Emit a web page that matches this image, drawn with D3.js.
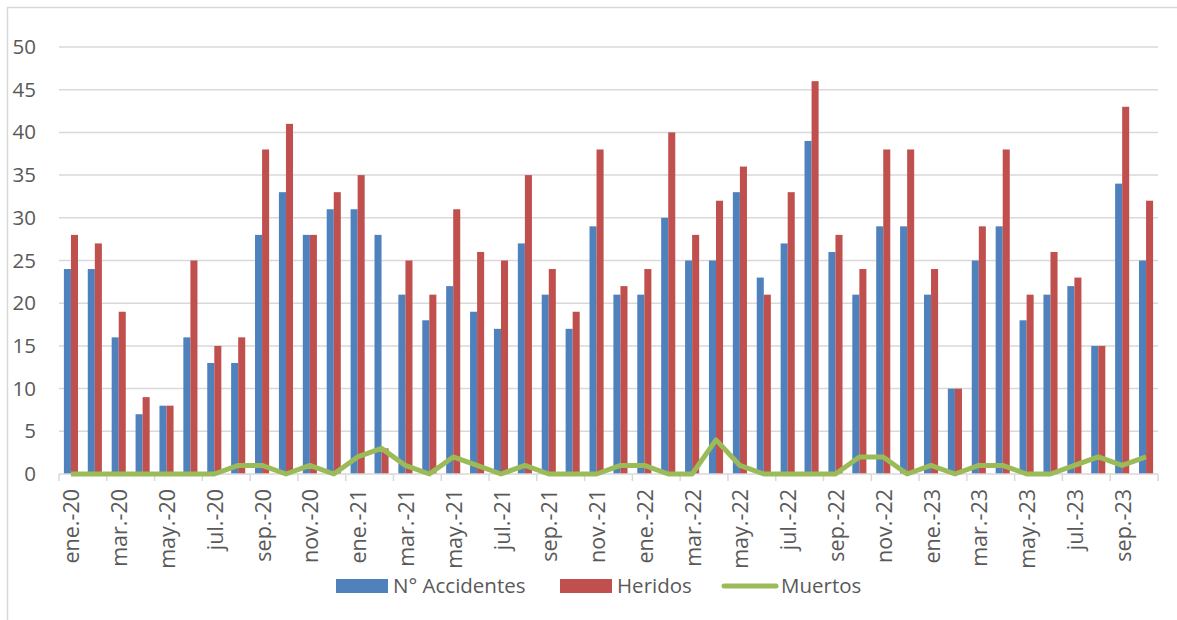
<!DOCTYPE html>
<html><head><meta charset="utf-8">
<script src="https://cdn.jsdelivr.net/npm/d3@7"></script>
<style>body{margin:0;background:#fff;} svg{display:block;}</style>
</head><body>
<svg id="c" width="1177" height="620"></svg>
<script>
const months = ["ene.-20","feb.-20","mar.-20","abr.-20","may.-20","jun.-20","jul.-20","ago.-20","sep.-20","oct.-20","nov.-20","dic.-20",
"ene.-21","feb.-21","mar.-21","abr.-21","may.-21","jun.-21","jul.-21","ago.-21","sep.-21","oct.-21","nov.-21","dic.-21",
"ene.-22","feb.-22","mar.-22","abr.-22","may.-22","jun.-22","jul.-22","ago.-22","sep.-22","oct.-22","nov.-22","dic.-22",
"ene.-23","feb.-23","mar.-23","abr.-23","may.-23","jun.-23","jul.-23","ago.-23","sep.-23","oct.-23"];
const accidentes = [24,24,16,7,8,16,13,13,28,33,28,31, 31,28,21,18,22,19,17,27,21,17,29,21, 21,30,25,25,33,23,27,39,26,21,29,29, 21,10,25,29,18,21,22,15,34,25];
const heridos =    [28,27,19,9,8,25,15,16,38,41,28,33, 35,3,25,21,31,26,25,35,24,19,38,22, 24,40,28,32,36,21,33,46,28,24,38,38, 24,10,29,38,21,26,23,15,43,32];
const muertos =    [0,0,0,0,0,0,0,1,1,0,1,0, 2,3,1,0,2,1,0,1,0,0,0,1, 1,0,0,4,1,0,0,0,0,2,2,0, 1,0,1,1,0,0,1,2,1,2];
const yTicks = [0,5,10,15,20,25,30,35,40,45,50];
const seriesNames = ["N° Accidentes","Heridos","Muertos"];
const colors = {acc:"#4F81BD", her:"#C0504D", mue:"#9BBB59"};

const svg = d3.select("#c");
const L=59, R=1158, T=47, B=474;
const font = "'Open Sans', 'Noto Sans', sans-serif";

// border
svg.append("rect").attr("x",7.5).attr("y",7.5).attr("width",1200).attr("height",700)
  .attr("fill","none").attr("stroke","#d9d9d9").attr("stroke-width",1.5);

const x = d3.scaleBand().domain(months).range([L,R]).paddingInner(0.41).paddingOuter(0.205);
const xs = d3.scaleBand().domain(["acc","her"]).range([0,x.bandwidth()]);
const y = d3.scaleLinear().domain([0,50]).range([B,T]);

// gridlines
svg.append("g").selectAll("line").data(yTicks.filter(d=>d>0)).join("line")
  .attr("x1",L).attr("x2",R).attr("y1",d=>y(d)).attr("y2",d=>y(d))
  .attr("stroke","#d9d9d9").attr("stroke-width",1.5);

// y axis labels
const yAxis = d3.axisLeft(y).tickValues(yTicks).tickSize(0).tickPadding(0);
const gy = svg.append("g").attr("transform",`translate(36,0)`).call(yAxis);
gy.select(".domain").remove();
gy.selectAll("text").attr("font-family",font).attr("font-size",20.5).attr("fill","#595959");

// bars
const g = svg.append("g");
months.forEach((m,i)=>{
  g.append("rect").attr("x",x(m)+xs("acc")).attr("width",xs.bandwidth())
    .attr("y",y(accidentes[i])).attr("height",B-y(accidentes[i])).attr("fill",colors.acc);
  g.append("rect").attr("x",x(m)+xs("her")).attr("width",xs.bandwidth())
    .attr("y",y(heridos[i])).attr("height",B-y(heridos[i])).attr("fill",colors.her);
});

// x axis
svg.append("line").attr("x1",L).attr("x2",R).attr("y1",B).attr("y2",B)
  .attr("stroke","#d9d9d9").attr("stroke-width",1.5);
const step = x.step();
const tickIdx = d3.range(0, months.length+1, 2);
svg.append("g").selectAll("line").data(tickIdx).join("line")
  .attr("x1",i=>i<months.length? x(months[i]) - x.paddingInner()*step/2 : R)
  .attr("x2",i=>i<months.length? x(months[i]) - x.paddingInner()*step/2 : R)
  .attr("y1",B).attr("y2",B+7).attr("stroke","#d9d9d9").attr("stroke-width",1.5);

svg.append("g").selectAll("text").data(months.filter((d,i)=>i%2===0)).join("text")
  .attr("transform",d=>`translate(${x(d)+x.bandwidth()/2+1},489) rotate(-90)`)
  .attr("text-anchor","end").attr("dy","0.35em")
  .attr("font-family",font).attr("font-size",21.5).attr("fill","#595959")
  .text(d=>d);

// line
const line = d3.line().x((d,i)=>x(months[i])+x.bandwidth()/2).y(d=>y(d));
svg.append("path").datum(muertos).attr("d",line).attr("fill","none")
  .attr("stroke",colors.mue).attr("stroke-width",5).attr("stroke-linejoin","round");

// legend
const lg = svg.append("g").attr("font-family",font).attr("font-size",20.5).attr("fill","#595959");
lg.append("rect").attr("x",336).attr("y",579).attr("width",52).attr("height",14).attr("fill",colors.acc);
lg.append("text").attr("x",393).attr("y",586).attr("dy","0.35em").text(seriesNames[0]);
lg.append("rect").attr("x",560).attr("y",579).attr("width",52).attr("height",14).attr("fill",colors.her);
lg.append("text").attr("x",617).attr("y",586).attr("dy","0.35em").text(seriesNames[1]);
lg.append("line").attr("x1",724).attr("x2",776).attr("y1",586).attr("y2",586)
  .attr("stroke",colors.mue).attr("stroke-width",5).attr("stroke-linecap","round");
lg.append("text").attr("x",781).attr("y",586).attr("dy","0.35em").text(seriesNames[2]);
</script>
</body></html>
